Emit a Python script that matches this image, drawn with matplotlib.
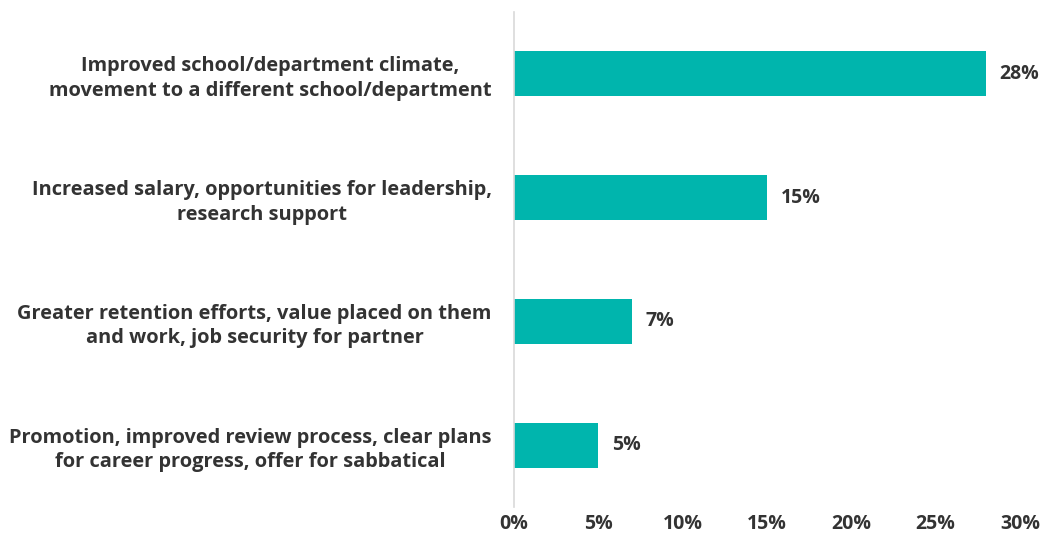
import matplotlib
matplotlib.use("Agg")
import matplotlib.pyplot as plt

categories = [
    "Improved school/department climate,\nmovement to a different school/department",
    "Increased salary, opportunities for leadership,\nresearch support",
    "Greater retention efforts, value placed on them\nand work, job security for partner",
    "Promotion, improved review process, clear plans\nfor career progress, offer for sabbatical",
]
values = [28, 15, 7, 5]
xticks = [0, 5, 10, 15, 20, 25, 30]

plt.rcParams['font.family'] = ['Open Sans', 'DejaVu Sans']
text_color = '#333333'
bar_color = '#00B5AD'

fig = plt.figure(figsize=(10.43, 5.46), dpi=100)
ax = fig.add_axes([514/1043, 1 - 507/546, (1020-514)/1043, (507-12)/546])

ypos = list(range(len(categories)))
ax.barh(ypos, values, height=0.365, color=bar_color)
ax.set_ylim(3.5, -0.5)
ax.set_xlim(0, 30)
ax.set_xticks(xticks)
ax.set_xticklabels([f"{t}%" for t in xticks], fontsize=14, fontweight='bold', color=text_color)
ax.set_yticks(ypos)
ax.set_yticklabels(categories, fontsize=14.4, fontweight='bold', color=text_color,
                   multialignment='center', linespacing=1.3)
ax.tick_params(axis='both', length=0)
ax.tick_params(axis='y', pad=16)
ax.tick_params(axis='x', pad=5)
for s in ['top', 'right', 'bottom']:
    ax.spines[s].set_visible(False)
ax.spines['left'].set_color('#D9D9D9')
ax.spines['left'].set_linewidth(1.2)

for y, v in zip(ypos, values):
    ax.text(v + 0.8, y, f"{v}%", va='center', ha='left', fontsize=14,
            fontweight='bold', color=text_color)

fig.savefig("out.png", dpi=100)
